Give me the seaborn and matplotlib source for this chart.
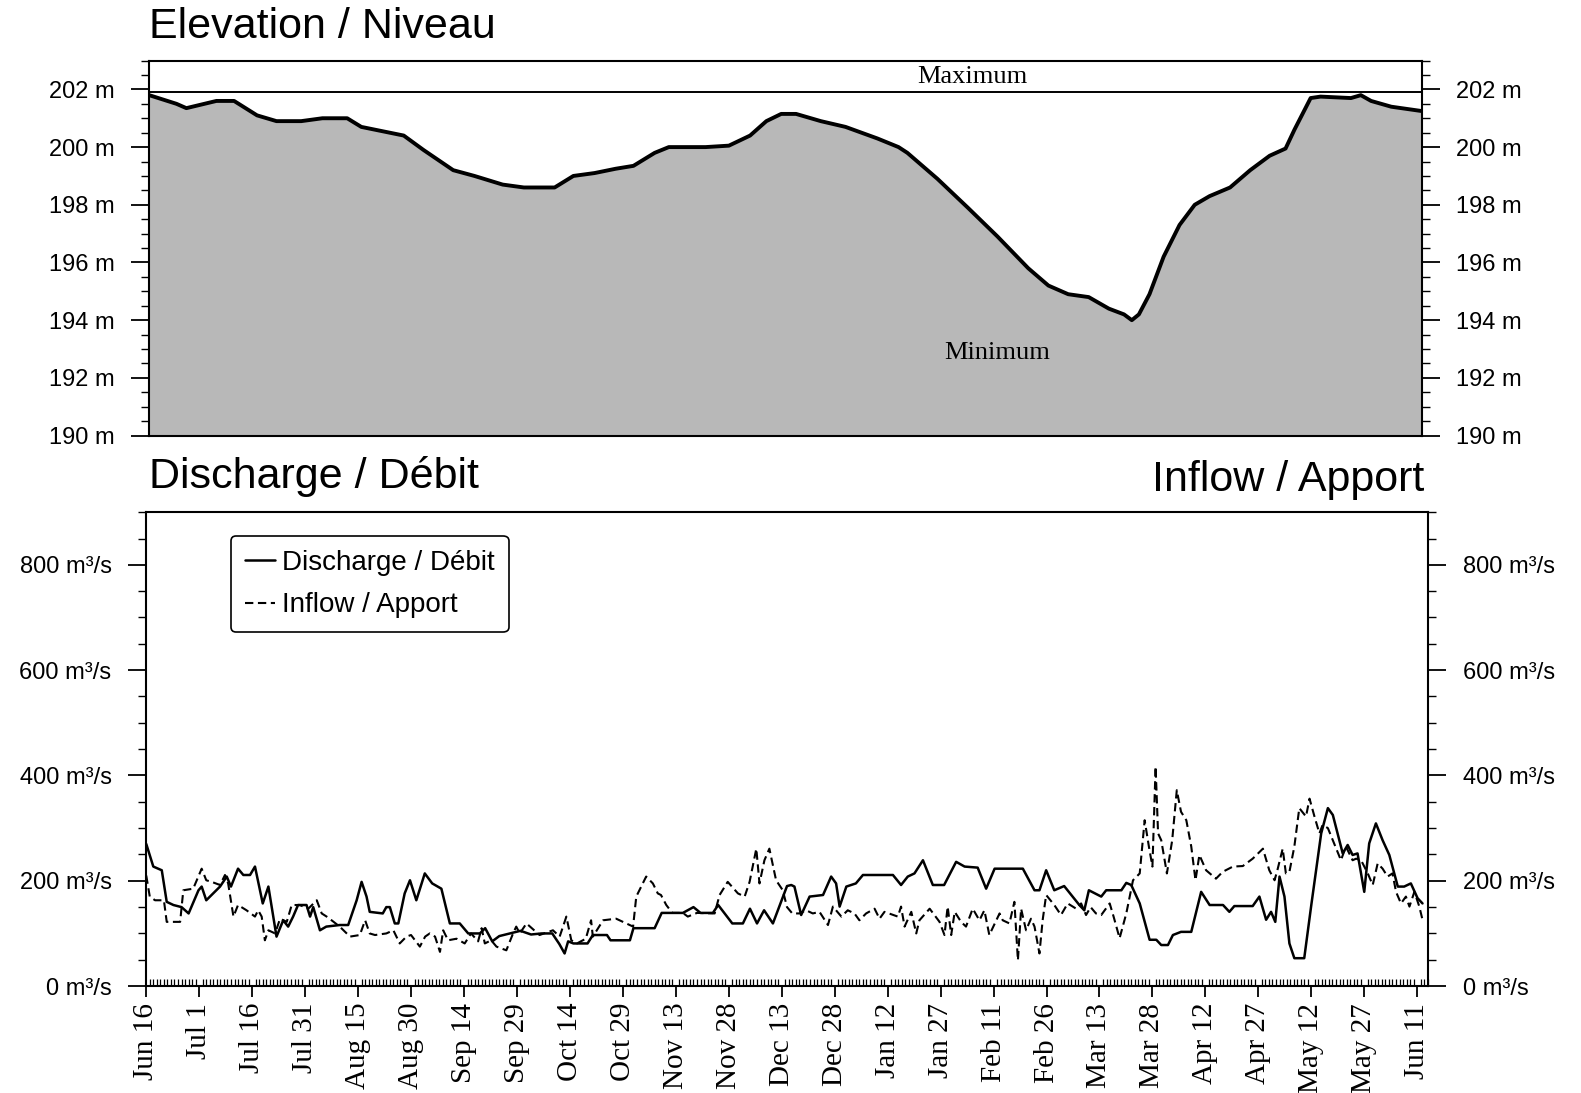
import numpy as np
import pandas as pd
import matplotlib
matplotlib.use("Agg")
import matplotlib.pyplot as plt
from matplotlib.ticker import MultipleLocator, FuncFormatter
import matplotlib.dates as mdates
import seaborn as sns

# ---- data -------------------------------------------------------------
start = pd.Timestamp("1993-06-16")

tick_days = list(range(0, 361, 15))
tick_labels = ["Jun 16", "Jul 1", "Jul 16", "Jul 31", "Aug 15", "Aug 30",
               "Sep 14", "Sep 29", "Oct 14", "Oct 29", "Nov 13", "Nov 28",
               "Dec 13", "Dec 28", "Jan 12", "Jan 27", "Feb 11", "Feb 26",
               "Mar 13", "Mar 28", "Apr 12", "Apr 27", "May 12", "May 27",
               "Jun 11"]

# reservoir elevation (m)
elev_days = [0, 7.7, 10.5, 19, 24, 30.5, 36, 43, 49, 56,
             60, 72, 77.6, 86, 92, 100, 106, 114.7, 120, 126,
             132, 137, 143, 147, 157.4, 164, 170, 174.6, 178.8, 183,
             190, 197, 206, 212, 214.5, 223, 231.6, 240, 248.7, 254.4,
             260, 265.8, 271.5, 275.8, 278, 280, 283, 287, 291.5, 295.8,
             300, 305.8, 311.5, 317, 321.5, 324, 328.6, 331.4, 340, 342.8,
             345.7, 351.4, 360]
elev_m = [201.8, 201.5, 201.35, 201.6, 201.6, 201.1, 200.9, 200.9, 201.0, 201.0,
          200.7, 200.4, 199.9, 199.2, 199.0, 198.7, 198.6, 198.6, 199.0, 199.1,
          199.25, 199.35, 199.8, 200.0, 200.0, 200.05, 200.4, 200.9, 201.15, 201.15,
          200.9, 200.7, 200.3, 200.0, 199.8, 198.9, 197.9, 196.9, 195.8, 195.2,
          194.9, 194.8, 194.4, 194.2, 194.0, 194.2, 194.9, 196.2, 197.3, 198.0,
          198.3, 198.6, 199.2, 199.7, 199.95, 200.6, 201.7, 201.75, 201.7, 201.8,
          201.6, 201.4, 201.25]
max_level = 201.9

# daily discharge (m3/s)
discharge_days = [0, 2, 4.4, 5.8, 7.7, 10, 12, 14.8, 15.7, 17,
                  20.9, 22.8, 24, 26, 27.5, 29.4, 30.8, 33, 34.6, 36.9,
                  38.8, 40.2, 41.6, 43, 45.4, 46.4, 47.3, 49.2, 51, 54.8,
                  57.2, 59.6, 61, 62.4, 63.3, 67, 68, 69, 70.4, 71.4,
                  73.2, 74.7, 76.5, 78.9, 81, 83.6, 86, 88.8, 91.2, 94.5,
                  96, 98, 100, 103, 106, 109, 112, 115, 117, 118.5,
                  119.5, 121, 125, 126.5, 130.5, 131.5, 137, 138, 144, 146,
                  152, 155, 157, 160.5, 162, 166, 169, 171, 173, 175,
                  177.5, 181.5, 182.7, 183.6, 185.5, 187.9, 191.7, 194, 195.4, 196.4,
                  198.3, 201, 203, 211.5, 213.8, 215.7, 217.6, 220, 222.8, 226,
                  229.4, 231.8, 235.5, 237.9, 240.3, 248.3, 251.6, 253, 254.9, 257.2,
                  260, 264.3, 265.7, 267, 270.5, 271.9, 276.2, 277.6, 279, 281.4,
                  284.2, 286.1, 287.5, 289.4, 290.8, 293.1, 296, 298.8, 301.2, 305,
                  306.8, 308.2, 313.4, 315.3, 317.2, 318.6, 319.8, 321, 322.4, 323.8,
                  325.2, 328, 330, 332.8, 334.7, 336.1, 338.9, 340.3, 341.7, 343.1,
                  345, 346.4, 348.3, 350.2, 352.1, 354.5, 356.3, 358.2, 360.1, 361.5]
discharge_m3s = [270, 227, 220, 160, 154, 150, 138, 182, 189, 163,
                 189, 208, 189, 223, 211, 211, 227, 157, 189, 94,
                 125, 113, 132, 154, 154, 132, 150, 106, 113, 116,
                 116, 163, 198, 170, 141, 138, 150, 150, 119, 119,
                 176, 201, 163, 214, 195, 185, 119, 119, 100, 100,
                 110, 85, 95, 100, 105, 98, 100, 100, 80, 62,
                 85, 81, 81, 97, 97, 87, 87, 110, 110, 139,
                 139, 150, 139, 139, 154, 119, 119, 147, 119, 144,
                 119, 190, 192, 189, 135, 170, 173, 208, 195, 151,
                 189, 195, 211, 211, 192, 208, 214, 239, 192, 192,
                 236, 227, 225, 185, 223, 223, 182, 182, 220, 182,
                 190, 154, 144, 182, 170, 182, 182, 196, 192, 157,
                 88, 88, 78, 78, 97, 103, 103, 179, 154, 154,
                 141, 152, 152, 170, 126, 141, 122, 208, 170, 81,
                 53, 53, 154, 290, 338, 325, 252, 268, 249, 252,
                 179, 271, 309, 277, 249, 189, 189, 195, 167, 157]

# daily inflow (m3/s)
inflow_days = [0, 1, 2.5, 5, 5.8, 9.6, 10.5, 13.3, 15.7, 17,
               18.5, 20.9, 22.3, 23.2, 24.7, 26, 28.4, 30.8, 31.7, 32.7,
               33.6, 34.6, 36.5, 37.9, 39.8, 41.2, 43.5, 45.9, 48.3, 49.7,
               51.1, 52.5, 54.8, 57.7, 60.5, 62, 63.3, 64.8, 68, 70,
               71.8, 73.7, 75, 77.5, 79, 80.3, 81.8, 83.2, 84.1, 85.5,
               87.9, 90.2, 92, 94, 95, 95.9, 97.7, 99.2, 102, 103.9,
               104.8, 105.8, 107.7, 111.4, 115.2, 117.1, 119, 120.4, 122, 124.5,
               126, 126.5, 129.4, 133.1, 136, 137.9, 138.8, 141.6, 143.5, 144.9,
               145.8, 147.3, 149, 152, 153.4, 156, 161, 162.4, 164.7, 167.6,
               169.5, 170.9, 172.8, 173.7, 175.1, 176.5, 178.4, 180.3, 181.5, 183,
               185, 186.9, 188.8, 190.7, 193.1, 194.5, 196.9, 198.7, 200.6, 202,
               203.9, 206.3, 207.7, 209.1, 212.9, 213.8, 214.8, 216.7, 218.1, 219,
               221.9, 224.7, 226.1, 227, 228, 229, 230.8, 232.2, 234.1, 236,
               237.4, 238.8, 241.7, 242.6, 244.5, 245.9, 246.9, 247.8, 249.2, 250.6,
               251.6, 253, 253.9, 254.9, 257.2, 259.1, 261, 263.4, 264.8, 266.2,
               267.5, 269, 270.5, 272.9, 274, 275.7, 277.6, 279.5, 281.4, 282.8,
               284, 285, 285.9, 286.6, 287.5, 289.1, 290.6, 291.9, 293.1, 294.6,
               296, 297.2, 298.3, 300.2, 303, 304.9, 307.8, 310.6, 313.4, 316.3,
               318.1, 319.6, 320.5, 321.9, 322.8, 323.8, 325.2, 326.6, 328.5, 329.5,
               330.9, 332.3, 333.2, 334.7, 336.1, 338.4, 339.8, 341.7, 342.7, 344.1,
               346, 347.4, 348.8, 350.2, 351.6, 353, 354, 355.4, 356.8, 357.8,
               359.2, 360.6, 361.5]
inflow_m3s = [210, 170, 163, 163, 122, 122, 182, 185, 223, 201,
              198, 192, 211, 195, 132, 154, 144, 132, 144, 132,
              87, 106, 100, 128, 122, 154, 154, 147, 163, 138,
              132, 125, 113, 94, 97, 125, 100, 97, 100, 106,
              81, 94, 97, 75, 94, 100, 94, 65, 106, 87,
              90, 81, 100, 85, 110, 81, 87, 75, 68, 100,
              113, 100, 119, 97, 106, 94, 132, 87, 81, 90,
              125, 94, 125, 128, 119, 113, 170, 208, 195, 176,
              173, 154, 139, 139, 132, 139, 138, 173, 198, 176,
              170, 198, 261, 195, 239, 261, 201, 182, 150, 138,
              138, 144, 138, 141, 116, 151, 132, 144, 138, 125,
              138, 147, 128, 141, 132, 151, 113, 141, 100, 125,
              147, 122, 97, 151, 97, 141, 122, 113, 147, 125,
              144, 97, 138, 125, 119, 160, 49, 147, 106, 128,
              113, 62, 125, 173, 154, 135, 157, 147, 157, 135,
              150, 138, 135, 157, 132, 91, 138, 201, 214, 315,
              265, 227, 417, 290, 277, 214, 277, 372, 331, 315,
              265, 201, 249, 220, 204, 217, 227, 228, 242, 261,
              220, 201, 223, 261, 214, 217, 265, 338, 322, 356,
              322, 290, 306, 300, 277, 239, 265, 239, 242, 239,
              214, 192, 233, 223, 208, 214, 179, 157, 170, 151,
              179, 151, 126]

# ---- frames -----------------------------------------------------------
def to_dates(days):
    return start + pd.to_timedelta(np.asarray(days, dtype=float), unit="D")

elev = pd.DataFrame({"date": to_dates(elev_days), "level": elev_m})
flows = pd.concat([
    pd.DataFrame({"date": to_dates(discharge_days), "flow": discharge_m3s,
                  "series": "Discharge / Débit"}),
    pd.DataFrame({"date": to_dates(inflow_days), "flow": inflow_m3s,
                  "series": "Inflow / Apport"}),
], ignore_index=True)

# ---- style ------------------------------------------------------------
sns.set_theme(style="ticks")
plt.rcParams["font.family"] = ["Liberation Sans", "DejaVu Sans"]
plt.rcParams["axes.linewidth"] = 1.5
plt.rcParams["axes.edgecolor"] = "black"
plt.rcParams["text.color"] = "black"
plt.rcParams["xtick.color"] = "black"
plt.rcParams["ytick.color"] = "black"

fig = plt.figure(figsize=(15.81, 10.93), dpi=100)
ax1 = fig.add_axes([0.0944, 0.6015, 0.8048, 0.3431])
ax2 = fig.add_axes([0.0925, 0.0978, 0.8106, 0.4336])

# ---- elevation panel --------------------------------------------------
ax1.fill_between(elev["date"], elev["level"], 190, color="#b8b8b8", lw=0)
sns.lineplot(data=elev, x="date", y="level", ax=ax1, color="black", lw=2.8)
ax1.axhline(max_level, color="black", lw=1.4)
ax1.set_xlim(to_dates([0])[0], to_dates([360])[0])
ax1.set_ylim(190, 203)
ax1.set_xlabel("")
ax1.set_ylabel("")
ax1.yaxis.set_major_locator(MultipleLocator(2))
ax1.yaxis.set_minor_locator(MultipleLocator(0.5))
ax1.yaxis.set_major_formatter(FuncFormatter(lambda v, p: f"{v:.0f} m"))
ax1.tick_params(axis="x", which="both", bottom=False, labelbottom=False)
ax1.tick_params(axis="y", which="major", left=True, right=True,
                labelleft=True, labelright=True, direction="out",
                length=13, width=1.3, pad=12, labelsize=17, colors="black")
ax1.tick_params(axis="y", which="minor", left=True, right=True,
                direction="out", length=6, width=1.0)
ax1.text(to_dates([233])[0], 202.42, "Maximum", ha="center", va="center",
         family="Liberation Serif", fontsize=19)
ax1.text(to_dates([240])[0], 192.87, "Minimum", ha="center", va="center",
         family="Liberation Serif", fontsize=19)

# ---- discharge / inflow panel ----------------------------------------
sns.lineplot(data=flows[flows["series"] == "Discharge / Débit"], x="date", y="flow",
             ax=ax2, color="black", lw=1.8, label="Discharge / Débit")
sns.lineplot(data=flows[flows["series"] == "Inflow / Apport"], x="date", y="flow",
             ax=ax2, color="black", lw=1.5, linestyle=(0, (4, 2.2)),
             label="Inflow / Apport")
ax2.set_xlim(to_dates([0])[0], to_dates([363])[0])
ax2.set_ylim(0, 900)
ax2.set_xlabel("")
ax2.set_ylabel("")
ax2.yaxis.set_major_locator(MultipleLocator(200))
ax2.yaxis.set_minor_locator(MultipleLocator(50))
ax2.yaxis.set_major_formatter(FuncFormatter(lambda v, p: f"{v:.0f} m³/s"))
ax2.set_xticks(to_dates(tick_days), labels=tick_labels)
ax2.xaxis.set_minor_locator(mdates.DayLocator())
for lab in ax2.get_xticklabels():
    lab.set_rotation(90)
    lab.set_family("Liberation Serif")
    lab.set_fontsize(21)
ax2.tick_params(axis="x", which="major", direction="out", length=8,
                width=1.3, pad=4, colors="black")
ax2.tick_params(axis="x", which="minor", direction="in", length=5, width=0.9)
ax2.tick_params(axis="y", which="major", left=True, right=True,
                labelleft=True, labelright=True, direction="out",
                length=13, width=1.3, pad=12, labelsize=17, colors="black")
ax2.tick_params(axis="y", which="minor", left=True, right=True,
                direction="out", length=6, width=1.0)

leg = ax2.legend(loc="upper left", bbox_to_anchor=(0.066, 0.95), frameon=True,
                 fancybox=True, edgecolor="black", framealpha=1, fontsize=20,
                 handlelength=1.1, handletextpad=0.25, borderpad=0.5,
                 labelspacing=0.6, borderaxespad=0)
leg.get_frame().set_linewidth(1.2)
for t in leg.get_texts():
    t.set_color("black")

# ---- panel titles -----------------------------------------------------
fig.text(0.0944, 0.975, "Elevation / Niveau", ha="left", va="center", fontsize=31)
fig.text(0.0944, 0.5637, "Discharge / Débit", ha="left", va="center", fontsize=31)
fig.text(0.9011, 0.5609, "Inflow / Apport", ha="right", va="center", fontsize=31)

fig.savefig("out.png", dpi=100)
